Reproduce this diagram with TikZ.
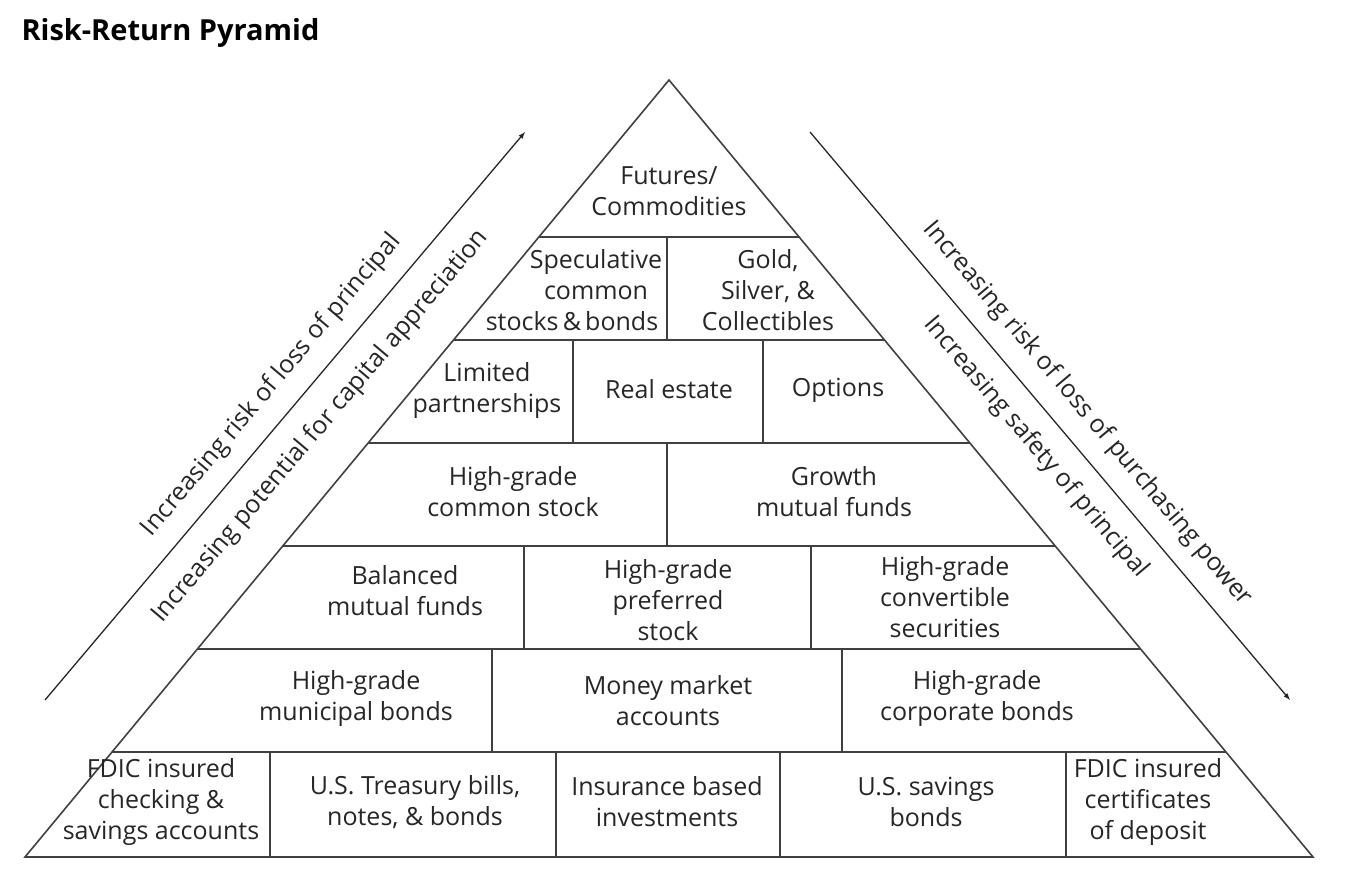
\documentclass[tikz,border=0pt]{standalone}
\usepackage{fontspec}
\setmainfont{Open Sans}
\usetikzlibrary{shapes,arrows,positioning}

\tikzset{
    tier/.style={align=center, inner sep=0pt, text=black!85, font=\fontsize{25}{31}\selectfont},
    edge/.style={line width=1.6pt, draw=black!75},
    trend/.style={line width=1.3pt, draw=black!85, -latex},
    trendlabel/.style={sloped, inner sep=0pt, text=black!85, font=\fontsize{25}{31}\selectfont}
}

\begin{document}
\begin{tikzpicture}[x=1pt, y=-1pt]
    \useasboundingbox (0,0) rectangle (1368,880);

        %-----Title-----
        \node [anchor=west, font=\bfseries\fontsize{29}{34}\selectfont] (title) at (18,33) {Risk-Return Pyramid};

        %-----Pyramid-----
        \coordinate (apex) at (669,80);
        \coordinate (baseL) at (25,857);
        \coordinate (baseR) at (1313,857);
        \draw [edge, line join=miter] (apex) -- (baseL) -- (baseR) -- cycle;

        % Tier lines
        \foreach \y in {237,340,443,546,649,752}
            \draw [edge] ({669-0.8288*(\y-80)},\y) -- ({669+0.8288*(\y-80)},\y);

        % Cell dividers
        \foreach \x/\ya/\yb in {667/237/340, 573/340/443, 763/340/443, 667/443/546,
                                524/546/649, 811/546/649, 492/649/752, 842/649/752,
                                270/752/857, 556/752/857, 780/752/857, 1066/752/857}
            \draw [edge] (\x,\ya) -- (\x,\yb);

        %-----Tiers-----
        % Top Tier
        \node [tier] (futures) at (669,191) {Futures/\\Commodities};

        % Second Tier
        \node [tier] (spec) at (596,290) {Speculative\\common\\\hspace*{-48pt}stocks\,\&\,bonds};
        \node [tier] (gold) at (768,290) {Gold,\\Silver, \&\\Collectibles};

        % Third Tier
        \node [tier] (limited) at (487,391) {Limited\\partnerships};
        \node [tier] (realestate) at (669,389) {Real estate};
        \node [tier] (options) at (838,390) {Options};

        % Fourth Tier
        \node [tier] (hgcommon) at (513,492) {High-grade\\common stock};
        \node [tier] (growth) at (834,492) {Growth\\mutual funds};

        % Fifth Tier
        \node [tier] (balanced) at (405,591) {Balanced\\mutual funds};
        \node [tier] (hgpreferred) at (668,600) {High-grade\\preferred\\stock};
        \node [tier] (hgconvertible) at (945,597) {High-grade\\convertible\\securities};

        % Sixth Tier
        \node [tier] (hgmunicipal) at (356,698) {High-grade\\municipal bonds};
        \node [tier] (moneymkt) at (668,701) {Money market\\accounts};
        \node [tier] (hgcorporate) at (977,698) {High-grade\\corporate bonds};

        % Base Tier
        \node [tier] (fdicchecking) at (161,802) {FDIC insured\\checking \&\\savings accounts};
        \node [tier] (treasury) at (415,802) {U.S. Treasury bills,\\notes, \& bonds};
        \node [tier] (insurance) at (667,802) {Insurance based\\investments};
        \node [tier] (savingsbonds) at (926,802) {U.S. savings\\bonds};
        \node [tier] (fdiccd) at (1148,802) {FDIC insured\\certificates\\of deposit};

        %-----Trends-----
        % Left Arrow
        \coordinate (riskS) at (45,700);
        \coordinate (riskE) at (525,132);
        \draw [trend] (riskS) -- (riskE)
            node [trendlabel, pos=0.52, yshift=30pt] (lossprin) {Increasing risk of loss of principal}
            node [trendlabel, pos=0.52, yshift=-34pt] (capapp) {Increasing potential for capital appreciation};

        % Right Arrow
        \coordinate (safeS) at (810,132);
        \coordinate (safeE) at (1290,700);
        \draw [trend] (safeS) -- (safeE)
            node [trendlabel, pos=0.53, yshift=30pt] (losspower) {Increasing risk of loss of purchasing power}
            node [trendlabel, pos=0.52, yshift=-31pt] (safeprin) {Increasing safety of principal};

\end{tikzpicture}
\end{document}
